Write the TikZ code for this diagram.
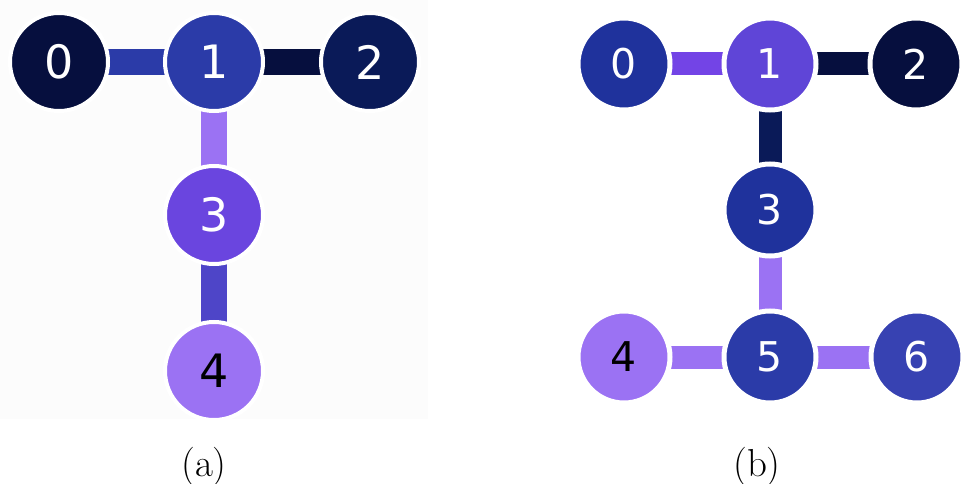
\documentclass[tikz,border=0pt]{standalone}
\usepackage{fontspec}
\newfontfamily\digitfont{DejaVu Sans}
\begin{document}
\begin{tikzpicture}[x=1pt,y=-1pt,
  qbitA/.style={circle,minimum size=98pt,inner sep=0pt,draw=white,line width=4pt,
    font=\digitfont\fontsize{46}{50}\selectfont,text=white},
  qbitB/.style={circle,minimum size=92pt,inner sep=0pt,draw=white,line width=5pt,
    font=\digitfont\fontsize{41}{45}\selectfont,text=white},
  linkA/.style={line width=26pt},
  linkB/.style={line width=23pt},
  caption/.style={font=\fontsize{39}{44}\selectfont,anchor=base}]
\definecolor{navyA}{HTML}{060F3E}
\definecolor{navyB}{HTML}{0A1A58}
\definecolor{royal}{HTML}{2B3BA8}
\definecolor{royalB}{HTML}{1F329C}
\definecolor{royalC}{HTML}{3742B2}
\definecolor{indigo}{HTML}{4E45C8}
\definecolor{violet}{HTML}{6A45DF}
\definecolor{violetB}{HTML}{5F45D7}
\definecolor{violetC}{HTML}{7344E6}
\definecolor{lilac}{HTML}{9B72F3}

\useasboundingbox (0,0) rectangle (962,484);
\fill[white] (0,0) rectangle (962,484);
\fill[black!1.2] (0,0) rectangle (428,419);

% ---- panel (a): T-shaped layout ----
\coordinate (a0) at (59,62);
\coordinate (a1) at (214,62);
\coordinate (a2) at (370,62);
\coordinate (a3) at (214,215);
\coordinate (a4) at (214,371);
\draw[linkA,royal]  (a0) -- (a1);
\draw[linkA,navyA]  (a1) -- (a2);
\draw[linkA,lilac]  (a1) -- (a3);
\draw[linkA,indigo] (a3) -- (a4);
\node[qbitA,fill=navyA]  (n0) at (a0) {0};
\node[qbitA,fill=royal]  (n1) at (a1) {1};
\node[qbitA,fill=navyB]  (n2) at (a2) {2};
\node[qbitA,fill=violet] (n3) at (a3) {3};
\node[qbitA,fill=lilac,text=black] (n4) at (a4) {4};
\node[caption] (capa) at (204,476) {(a)};

% ---- panel (b): H-shaped layout ----
\coordinate (b0) at (624,64);
\coordinate (b1) at (770,64);
\coordinate (b2) at (916,64);
\coordinate (b3) at (770,210);
\coordinate (b4) at (624,357);
\coordinate (b5) at (770,357);
\coordinate (b6) at (917,357);
\draw[linkB,violetC] (b0) -- (b1);
\draw[linkB,navyA]   (b1) -- (b2);
\draw[linkB,navyB]   (b1) -- (b3);
\draw[linkB,lilac]   (b3) -- (b5);
\draw[linkB,lilac]   (b4) -- (b5);
\draw[linkB,lilac]   (b5) -- (b6);
\node[qbitB,fill=royalB]  (m0) at (b0) {0};
\node[qbitB,fill=violetB] (m1) at (b1) {1};
\node[qbitB,fill=navyA]   (m2) at (b2) {2};
\node[qbitB,fill=royalB]  (m3) at (b3) {3};
\node[qbitB,fill=lilac,text=black] (m4) at (b4) {4};
\node[qbitB,fill=royal]   (m5) at (b5) {5};
\node[qbitB,fill=royalC]  (m6) at (b6) {6};
\node[caption] (capb) at (757,476) {(b)};
\end{tikzpicture}
\end{document}
